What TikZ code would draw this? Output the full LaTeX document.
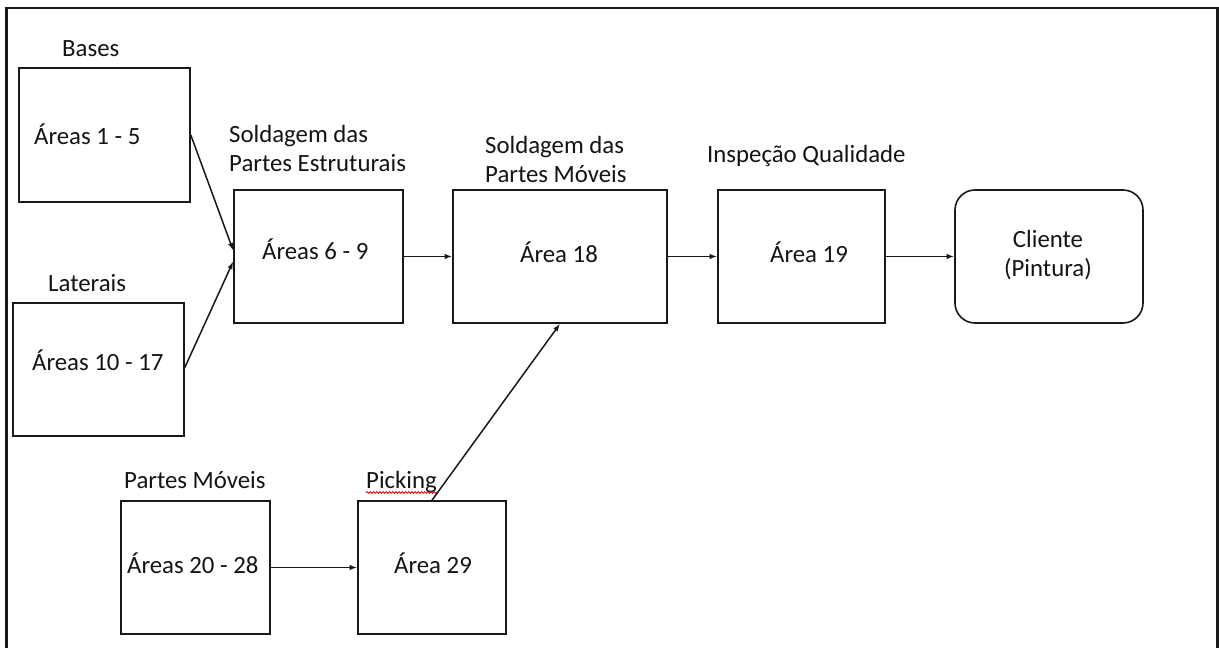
\documentclass[tikz,border=0pt]{standalone}
\usepackage{fontspec}
\setmainfont{Carlito}
\usetikzlibrary{arrows.meta,calc,decorations.pathmorphing}

\begin{document}
\begin{tikzpicture}[x=1pt,y=-1pt,
  every node/.style={font=\fontsize{24.8}{29.8}\selectfont, text=black!92},
  area/.style={draw=black!90, line width=1.6pt, inner sep=0pt, minimum height=133pt},
  endbox/.style={area, rounded corners=20pt},
  txt/.style={inner sep=0pt, anchor=base west},
  flow/.style={draw=black!90, line width=1.5pt, -{Latex[length=7.5pt,width=5.5pt]}}
]
\useasboundingbox (0,0) rectangle (1219,648);
\fill[white] (0,0) rectangle (1219,648);

% outer frame (open at the bottom)
\draw[line width=2.2pt, black!90] (6.5,660) -- (6.5,8) -- (1217.5,8) -- (1217.5,660);

% boxes
\node[area, minimum width=171pt, minimum height=134pt] (bases) at (104.5,135) {};
\node[area, minimum width=171pt] (laterais) at (98.5,369.5) {};
\node[area, minimum width=169pt] (estrut) at (318.5,256.5) {};
\node[area, minimum width=214pt] (moveis) at (560,256.5) {};
\node[area, minimum width=167pt] (inspec) at (801.5,256.5) {};
\node[endbox, minimum width=188pt] (cliente) at (1049,256.5) {};
\node[area, minimum width=149pt] (partes) at (195.5,567.5) {};
\node[area, minimum width=148pt] (picking) at (432,567.5) {};

% texts inside the boxes
\node[txt] (t-bases) at (34,144) {Áreas 1 - 5};
\node[txt] (t-laterais) at (32,370) {Áreas 10 - 17};
\node[txt] (t-estrut) at (262,259) {Áreas 6 - 9};
\node[txt] (t-moveis) at (520,262) {Área 18};
\node[txt] (t-inspec) at (770,262) {Área 19};
\node[txt] (t-partes) at (127,573) {Áreas 20 - 28};
\node[txt] (t-picking) at (394,573) {Área 29};
\node[txt, anchor=base] (t-cliente) at (1048,247)
  {\begin{tabular}[t]{@{}c@{}}Cliente\\(Pintura)\end{tabular}};

% titles above the boxes
\node[txt] (l-bases) at (62,56) {Bases};
\node[txt] (l-laterais) at (48,291) {Laterais};
\node[txt] (l-estrut) at (229,142)
  {\begin{tabular}[t]{@{}l@{}}Soldagem das\\Partes Estruturais\end{tabular}};
\node[txt] (l-moveis) at (485,153)
  {\begin{tabular}[t]{@{}l@{}}Soldagem das\\Partes Móveis\end{tabular}};
\node[txt] (l-inspec) at (707,162) {Inspeção Qualidade};
\node[txt] (l-partes) at (124,488) {Partes Móveis};
\node[txt] (l-picking) at (366,488) {Picking};

% spell-check squiggle under "Picking"
\draw[red!85!black, line width=0.8pt, decorate,
      decoration={snake, amplitude=0.9pt, segment length=3.2pt}]
  ($(l-picking.base west)+(0,4.5)$) -- ($(l-picking.base east)+(0,4.5)$);

% connectors
\draw[flow] (bases.east) -- ($(estrut.west)+(0,-6)$);
\draw[flow] ($(laterais.east)+(0,-2)$) -- ($(estrut.west)+(0,5)$);
\draw[flow] (estrut.east) -- (moveis.west);
\draw[flow] (moveis.east) -- (inspec.west);
\draw[flow] (inspec.east) -- (cliente.west);
\draw[flow] (partes.east) -- (picking.west);
\draw[flow] (picking.north) -- (moveis.south);
\end{tikzpicture}
\end{document}
